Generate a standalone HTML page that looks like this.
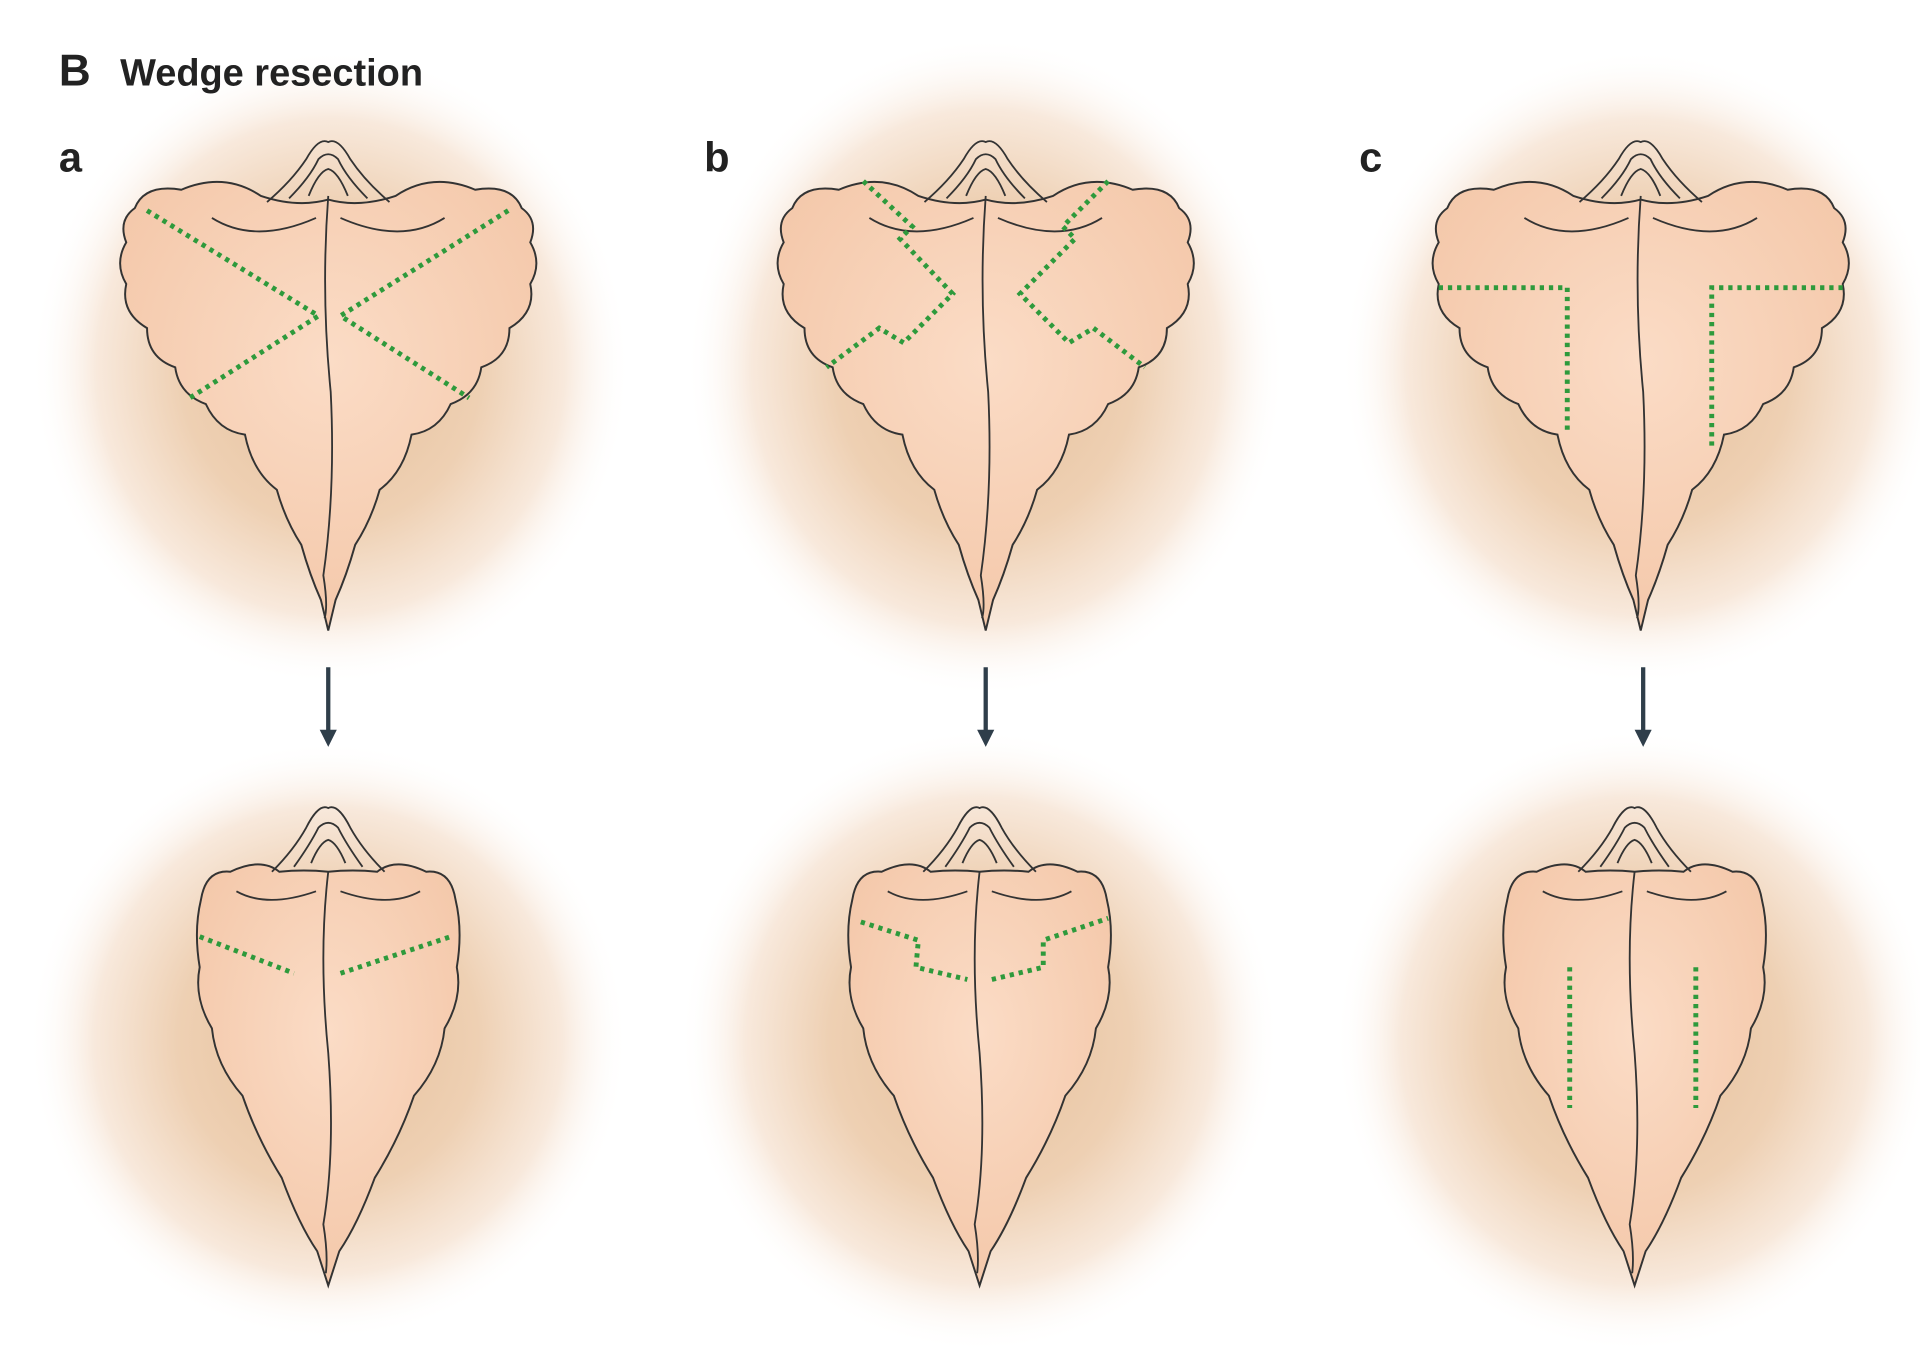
<!DOCTYPE html>
<html><head><meta charset="utf-8"><style>
html,body{margin:0;padding:0;background:#fff;}
svg{display:block;}
</style></head><body>
<svg width="1920" height="1359" viewBox="0 0 1568 1110" xmlns="http://www.w3.org/2000/svg">
<defs>
<radialGradient id="g" cx="50%" cy="50%" r="50%">
<stop offset="0%" stop-color="#e6bf9a"/>
<stop offset="50%" stop-color="#eed0b3"/>
<stop offset="78%" stop-color="#f8e9dc"/>
<stop offset="100%" stop-color="#ffffff" stop-opacity="0"/>
</radialGradient>
<radialGradient id="f" cx="50%" cy="40%" r="60%">
<stop offset="0%" stop-color="#fbdcc6"/>
<stop offset="100%" stop-color="#f4c8aa"/>
</radialGradient>
<g id="top">
<path d="M-120,155 Q-150,150 -158,170 Q-172,180 -165,198 Q-175,215 -165,232 Q-170,255 -148,268 Q-148,292 -125,300 Q-122,322 -100,330 Q-90,352 -68,355 Q-62,385 -42,400 Q-35,425 -22,445 Q-15,470 -6,490 L0,515 L6,490 Q15,470 22,445 Q35,425 42,400 Q62,385 68,355 Q90,352 100,330 Q122,322 125,300 Q148,292 148,268 Q170,255 165,232 Q175,215 165,198 Q172,180 158,170 Q150,150 120,155 Q85,140 55,160 Q25,170 0,163 Q-25,170 -55,160 Q-85,140 -120,155 Z" fill="url(#f)" stroke="#333" stroke-width="1.6"/>
<path d="M-95,178 Q-60,200 -10,178 M95,178 Q60,200 10,178" fill="none" stroke="#333" stroke-width="1.5"/>
<path d="M-50,165 Q-30,148 -18,130 Q-8,112 0,116 Q8,112 18,130 Q30,148 50,165 M-32,162 Q-15,145 -8,130 Q0,122 8,130 Q15,145 32,162 M-16,160 Q-8,140 0,138 Q8,140 16,160" fill="none" stroke="#333" stroke-width="1.5"/>
<path d="M0,160 Q-6,240 2,320 Q6,400 -4,470 Q0,495 -3,505" fill="none" stroke="#333" stroke-width="1.5"/>
</g>
<g id="bot">
<path d="M-80,712 Q-100,710 -104,735 Q-110,760 -105,790 Q-110,815 -95,840 Q-92,870 -70,895 Q-58,930 -38,962 Q-24,1000 -9,1022 L0,1050 L9,1022 Q24,1000 38,962 Q58,930 70,895 Q92,870 95,840 Q110,815 105,790 Q110,760 104,735 Q100,710 80,712 Q55,700 40,712 Q20,710 0,712 Q-20,710 -40,712 Q-55,700 -80,712 Z" fill="url(#f)" stroke="#333" stroke-width="1.6"/>
<path d="M-75,728 Q-50,742 -10,728 M75,728 Q50,742 10,728" fill="none" stroke="#333" stroke-width="1.5"/>
<path d="M-46,712 Q-28,694 -18,676 Q-8,656 0,660 Q8,656 18,676 Q28,694 46,712 M-28,708 Q-15,690 -8,676 Q0,668 8,676 Q15,690 28,708 M-14,705 Q-7,688 0,686 Q7,688 14,705" fill="none" stroke="#333" stroke-width="1.5"/>
<path d="M0,712 Q-8,780 0,860 Q6,940 -4,1000 Q0,1025 -2,1040" fill="none" stroke="#333" stroke-width="1.5"/>
</g>
<marker id="ar" markerWidth="14" markerHeight="14" refX="4" refY="7" orient="auto" markerUnits="userSpaceOnUse"><path d="M0,0 L14,7 L0,14 Z" fill="#2f3e4a"/></marker>
</defs>
<rect width="1568" height="1110" fill="#fff"/>
<ellipse cx="270" cy="300" rx="245" ry="260" fill="url(#g)"/>
<ellipse cx="805" cy="300" rx="245" ry="270" fill="url(#g)"/>
<ellipse cx="1340" cy="300" rx="245" ry="260" fill="url(#g)"/>
<ellipse cx="268" cy="850" rx="245" ry="245" fill="url(#g)"/>
<ellipse cx="800" cy="850" rx="245" ry="255" fill="url(#g)"/>
<ellipse cx="1335" cy="850" rx="245" ry="255" fill="url(#g)"/>
<use href="#top" transform="translate(268,0)"/>
<use href="#top" transform="translate(805,0)"/>
<use href="#top" transform="translate(1340,0)"/>
<use href="#bot" transform="translate(268,0)"/>
<use href="#bot" transform="translate(800,0)"/>
<use href="#bot" transform="translate(1335,0)"/>
<g fill="none" stroke="#2e9a3c" stroke-width="4" stroke-dasharray="3.5 4">
<polyline points="120,172 260,258 155,325"/>
<polyline points="415,172 278,258 383,325"/>
<polyline points="705,148 745,185 735,195 778,240 738,280 718,268 675,300"/>
<polyline points="905,148 868,185 878,195 833,240 873,280 893,268 935,300"/>
<polyline points="1175,235 1280,235 1280,355"/>
<polyline points="1505,235 1398,235 1398,365"/>
<polyline points="163,765 240,795"/>
<polyline points="278,795 368,765"/>
<polyline points="703,753 750,768 748,790 790,800"/>
<polyline points="810,800 852,790 852,768 905,750"/>
<polyline points="1282,790 1282,905"/>
<polyline points="1385,790 1385,905"/>
</g>
<g stroke="#2f3e4a" stroke-width="3.5">
<line x1="268" y1="545" x2="268" y2="600" marker-end="url(#ar)"/>
<line x1="805" y1="545" x2="805" y2="600" marker-end="url(#ar)"/>
<line x1="1342" y1="545" x2="1342" y2="600" marker-end="url(#ar)"/>
</g>
<g font-family="Liberation Sans, sans-serif" font-weight="bold" fill="#222">
<text x="48" y="70" font-size="36">B</text>
<text x="98" y="70" font-size="31">Wedge resection</text>
<text x="48" y="140" font-size="34">a</text>
<text x="575" y="140" font-size="34">b</text>
<text x="1110" y="140" font-size="34">c</text>
</g>
</svg>
</body></html>
